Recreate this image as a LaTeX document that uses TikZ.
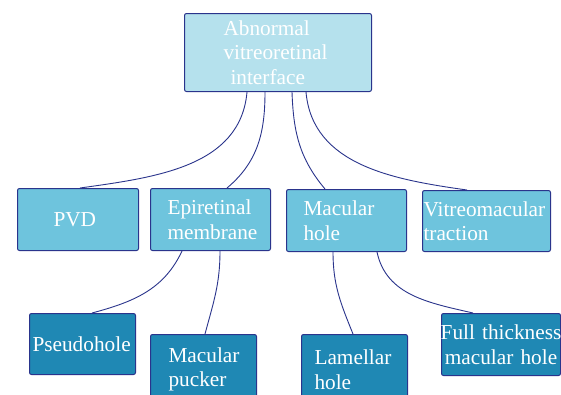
\documentclass[tikz,border=0pt]{standalone}
\usepackage{fontspec}
\setmainfont{Liberation Serif}
\definecolor{navy}{RGB}{42,52,140}
\definecolor{fillA}{RGB}{181,225,237}
\definecolor{fillB}{RGB}{110,196,221}
\definecolor{fillC}{RGB}{31,136,180}
\begin{document}
\begin{tikzpicture}[x=1pt,y=1pt,
  box/.style={draw=navy, line width=1pt, rounded corners=2pt, text=white,
    font=\fontsize{21.3}{24.5}\selectfont, inner ysep=0pt, anchor=north west, align=left},
  lvlA/.style={box, fill=fillA},
  lvlB/.style={box, fill=fillB},
  lvlC/.style={box, fill=fillC},
  conn/.style={draw=navy, line width=0.9pt}]
\clip (0,0) rectangle (561,-394);
\fill[white] (0,0) rectangle (561,-394);
% top
\node[lvlA, minimum height=78pt, inner xsep=39pt, text width=109pt] (top) at (184,-13)
  {Abnormal\\vitreoretinal\\\hspace*{7pt}interface};
% level 2
\node[lvlB, minimum height=62pt, inner xsep=36pt, text width=49pt] (pvd) at (17,-188) {PVD};
\node[lvlB, minimum height=62pt, inner xsep=17pt, text width=86pt] (erm) at (150,-188) {Epiretinal\\membrane};
\node[lvlB, minimum height=62pt, inner xsep=17pt, text width=86pt] (mh) at (286,-189) {Macular\\hole};
\node[lvlB, minimum height=61pt, inner xsep=1pt, text width=126pt] (vmt) at (422,-190) {Vitreomacular\\traction};
% level 3
\node[lvlC, minimum height=61pt, inner xsep=3pt, text width=100pt] (ps) at (29,-313) {Pseudohole};
\node[lvlC, minimum height=70pt, inner xsep=18pt, text width=70pt] (mp) at (150,-334) {Macular\\pucker};
\node[lvlC, minimum height=70pt, inner xsep=13pt, text width=80pt] (lh) at (301,-334) {Lamellar\\hole};
\node[lvlC, minimum height=62pt, inner xsep=1pt, text width=117pt, align=left] (fth) at (441,-313)
  {\makebox[117pt]{Full thickness}\\\makebox[117pt]{macular hole}};
% connectors
\draw[conn] ([xshift=63pt]top.south west) to[out=-95,in=8] ([xshift=63pt]pvd.north west);
\draw[conn] ([xshift=81pt]top.south west) to[out=-90,in=40] ([xshift=77pt]erm.north west);
\draw[conn] ([xshift=108pt]top.south west) to[out=-88,in=130] ([xshift=39pt]mh.north west);
\draw[conn] ([xshift=122pt]top.south west) to[out=-85,in=172] ([xshift=45pt]vmt.north west);
\draw[conn] ([xshift=32pt]erm.south west) to[out=-115,in=15] ([xshift=63pt]ps.north west);
\draw[conn] ([xshift=70pt]erm.south west) to[out=-90,in=75] ([xshift=55pt]mp.north west);
\draw[conn] ([xshift=47pt]mh.south west) to[out=-90,in=112] ([xshift=52pt]lh.north west);
\draw[conn] ([xshift=91pt]mh.south west) to[out=-78,in=167] ([xshift=32pt]fth.north west);
\end{tikzpicture}
\end{document}
